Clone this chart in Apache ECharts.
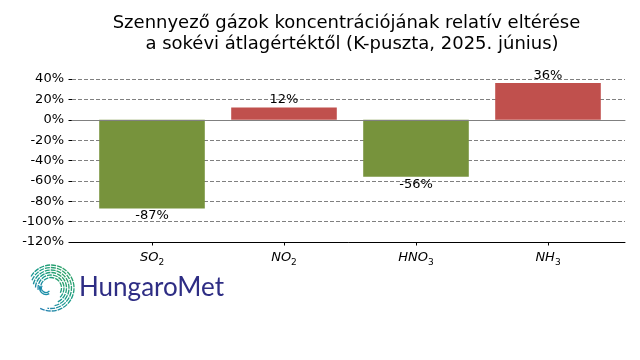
<!DOCTYPE html>
<html>
<head>
<meta charset="utf-8">
<script src="https://cdn.jsdelivr.net/npm/echarts@6/dist/echarts.min.js"></script>
<style>
html,body{margin:0;padding:0;background:#fff;}
#main{width:640px;height:360px;}
</style>
</head>
<body>
<div id="main"></div>
<script>
// ---- data ----
const categories = ['SO2', 'NO2', 'HNO3', 'NH3'];
const catLabels = ['{a|SO}{b|2}', '{a|NO}{b|2}', '{a|HNO}{b|3}', '{a|NH}{b|3}'];
const values = [-87, 12, -56, 36];
const yTicks = [-120, -100, -80, -60, -40, -20, 0, 20, 40];
const titleLines = ['Szennyező gázok koncentrációjának relatív eltérése', 'a sokévi átlagértéktől (K-puszta, 2025. június)'];

const FONT = 'DejaVu Sans';
const chart = echarts.init(document.getElementById('main'), null, {renderer: 'canvas'});

const yMin = yTicks[0], yMax = yTicks[yTicks.length - 1];

// logo spiral arcs (decoration)
const arcs = [];
const spiral = [
  [23, -150, 118], [20.5, -158, 100], [18, -168, 82], [15.5, -178, 64],
  [13, -188, 46], [10.5, -198, 28]
];
spiral.forEach(([r, s, e]) => {
  arcs.push({
    type: 'arc',
    shape: {cx: 51, cy: 288, r: r, startAngle: s * Math.PI / 180, endAngle: e * Math.PI / 180, clockwise: true},
    style: {
      fill: null,
      lineWidth: 1.3,
      lineDash: [5, 1],
      stroke: new echarts.graphic.LinearGradient(1, 0, 0, 1, [
        {offset: 0, color: '#3aa657'}, {offset: 0.5, color: '#169a8c'}, {offset: 1, color: '#2a72c4'}
      ])
    }
  });
});
[[6.5, 200, 60], [4.5, 210, 40]].forEach(([r, s, e]) => {
  arcs.push({
    type: 'arc',
    shape: {cx: 46, cy: 288, r: r, startAngle: s * Math.PI / 180, endAngle: e * Math.PI / 180, clockwise: false},
    style: {fill: null, lineWidth: 1.3, stroke: '#1c8fa8'}
  });
});

const option = {
  backgroundColor: '#ffffff',
  animation: false,
  textStyle: {fontFamily: FONT},
  grid: [
    {left: 72, right: 15, top: 79, bottom: 118, containLabel: false},
    {left: 86, right: 26, top: 79, bottom: 118, containLabel: false},
    {left: 72, right: 15, top: 79, bottom: 118, containLabel: false}
  ],
  xAxis: [
    {gridIndex: 0, type: 'value', min: 0, max: 1, axisLine: {show: true, onZero: false, lineStyle: {color: '#000', width: 1}},
     axisTick: {show: false}, axisLabel: {show: false}, splitLine: {show: false}, z: 5},
    {gridIndex: 1, type: 'category', data: categories, boundaryGap: true, position: 'bottom',
     axisLine: {show: false, onZero: false}, axisTick: {show: true, alignWithLabel: true, length: 3.5, lineStyle: {color: '#000'}},
     axisLabel: {
       margin: 9,
       formatter: (v, i) => catLabels[i],
       rich: {
         a: {fontFamily: FONT, fontSize: 13, fontStyle: 'italic', color: '#000', lineHeight: 16, verticalAlign: 'top'},
         b: {fontFamily: FONT, fontSize: 9, color: '#000', lineHeight: 9, verticalAlign: 'bottom'}
       }
     },
     splitLine: {show: false}},
    {gridIndex: 2, type: 'value', min: 0, max: 1, axisLine: {show: true, onZero: true, lineStyle: {color: '#808080', width: 1}},
     axisTick: {show: false}, axisLabel: {show: false}, splitLine: {show: false}, z: 5}
  ],
  yAxis: [
    {gridIndex: 0, type: 'value', min: yMin, max: yMax, interval: 20,
     axisLine: {show: false}, axisTick: {show: true, length: 3.5, lineStyle: {color: '#000'}},
     axisLabel: {formatter: '{value}%', color: '#000', fontSize: 13, fontFamily: FONT, margin: 8},
     splitLine: {show: true, lineStyle: {color: '#808080', type: [4, 2], width: 1}}},
    {gridIndex: 1, type: 'value', min: yMin, max: yMax, show: false, splitLine: {show: false}},
    {gridIndex: 2, type: 'value', min: yMin, max: yMax, show: false, splitLine: {show: false}}
  ],
  series: [{
    type: 'bar',
    xAxisIndex: 1, yAxisIndex: 1,
    barWidth: '80%',
    data: values.map(v => ({
      value: v,
      itemStyle: {color: v < 0 ? '#77933c' : '#c0504d'},
      label: {position: v < 0 ? 'bottom' : 'top'}
    })),
    label: {show: true, formatter: '{c}%', color: '#000', fontSize: 13, fontFamily: FONT, distance: 1}
  }],
  graphic: [
    {type: 'text', x: 346.5, y: 23, style: {text: titleLines[0], font: '18px "DejaVu Sans"', fill: '#000', textAlign: 'center', textVerticalAlign: 'middle'}},
    {type: 'text', x: 352, y: 44, style: {text: titleLines[1], font: '18px "DejaVu Sans"', fill: '#000', textAlign: 'center', textVerticalAlign: 'middle'}},
    {type: 'text', x: 79, y: 288, style: {text: 'HungaroMet', font: '26px Lato', fill: '#2e2d84', textAlign: 'left', textVerticalAlign: 'middle'}}
  ].concat(arcs)
};
chart.setOption(option);
</script>
</body>
</html>
